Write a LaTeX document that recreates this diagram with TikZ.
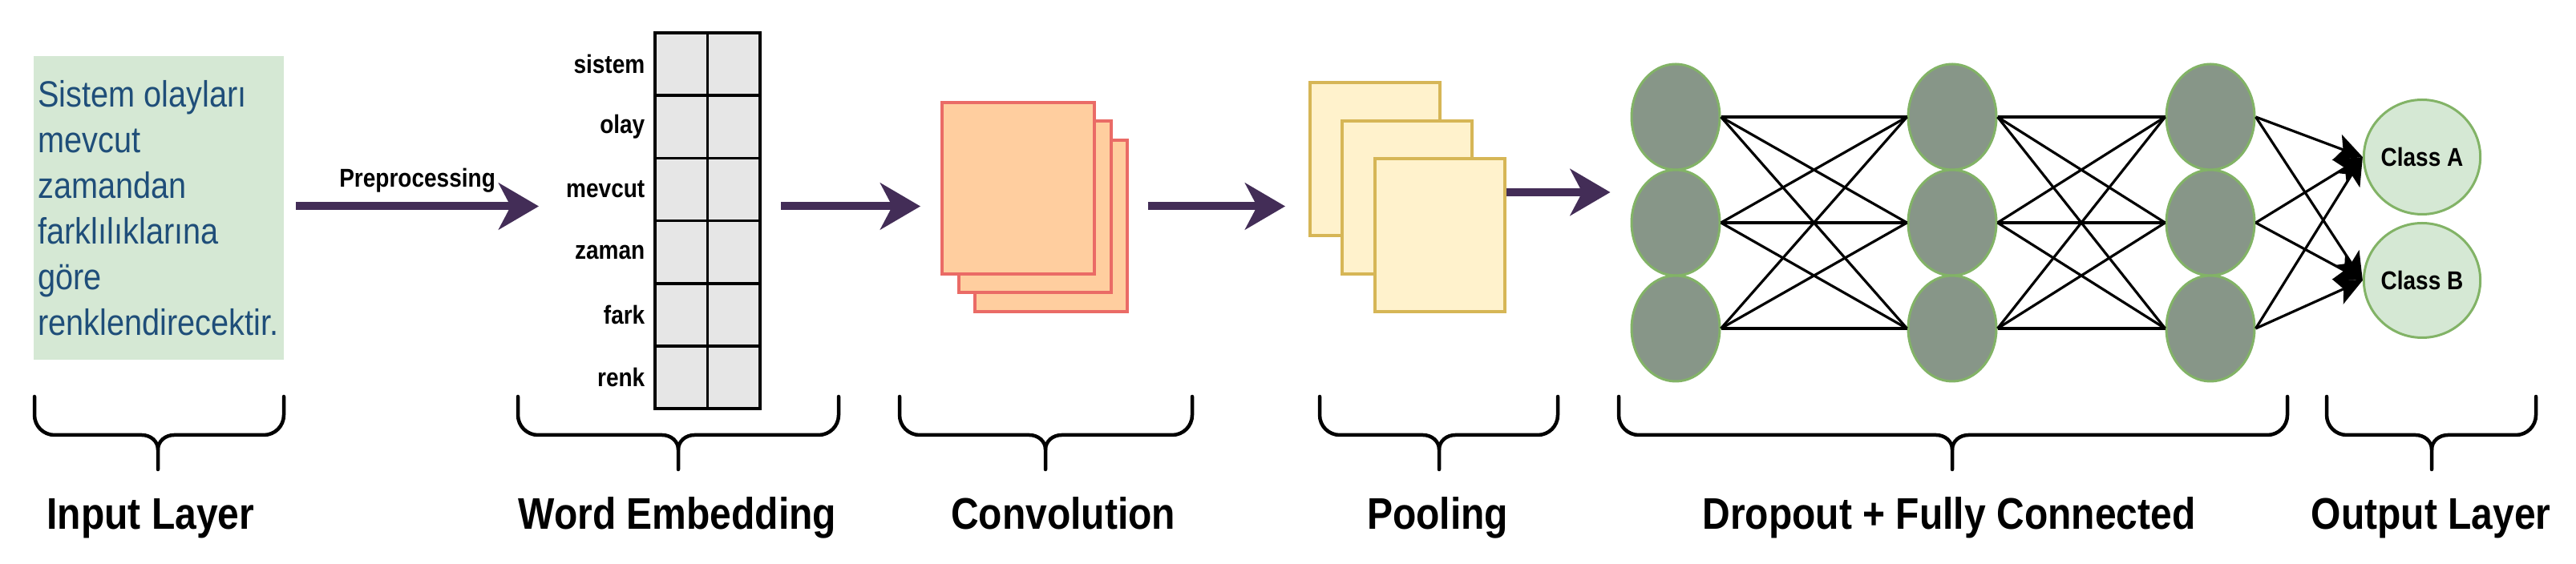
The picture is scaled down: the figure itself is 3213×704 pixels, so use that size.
\documentclass[tikz,border=0pt]{standalone}
\usepackage{fontspec}
\setmainfont{Liberation Sans}
\usepackage{graphicx}
\usetikzlibrary{positioning,shapes.geometric,arrows.meta}

\definecolor{inputfill}{HTML}{D5E8D4}
\definecolor{inputtext}{HTML}{1F4E79}
\definecolor{cellfill}{HTML}{E6E6E6}
\definecolor{convfill}{HTML}{FFCE9F}
\definecolor{convline}{HTML}{EA6B66}
\definecolor{poolfill}{HTML}{FFF2CC}
\definecolor{poolline}{HTML}{D6B656}
\definecolor{neuronfill}{HTML}{879688}
\definecolor{neuronline}{HTML}{82B366}
\definecolor{flowcol}{HTML}{432D57}

\newcommand{\vstretch}[1]{\scalebox{1}[1.15]{#1}}
% curly brace under a layer: left end, tip, right end
\newcommand{\layerbrace}[3]{%
    \draw[bracestyle] (#1,209) -- (#1,186) to[out=-90,in=180] ({#1+25},161)
        -- ({#2-20},161) to[out=0,in=90] (#2,143) -- (#2,118);
    \draw[bracestyle] (#3,209) -- (#3,186) to[out=-90,in=0] ({#3-25},161)
        -- ({#2+20},161) to[out=180,in=90] (#2,143);}

\tikzset{
    inputbox/.style={rectangle, fill=inputfill, minimum width=31.1mm, minimum height=37.9mm,
        inner xsep=0.6mm, text=inputtext},
    cell/.style={rectangle, draw=black, line width=0.35mm, fill=cellfill,
        minimum width=6.55mm, minimum height=7.82mm, inner sep=0pt, outer sep=0pt},
    smalllabel/.style={font=\bfseries\fontsize{7.97}{9}\selectfont, inner sep=0pt},
    layerlabel/.style={font=\bfseries\fontsize{13.66}{16}\selectfont, inner sep=0pt, anchor=base},
    convmap/.style={rectangle, draw=convline, fill=convfill, line width=0.4mm,
        minimum width=19mm, minimum height=21.4mm},
    poolmap/.style={rectangle, draw=poolline, fill=poolfill, line width=0.4mm,
        minimum width=16.2mm, minimum height=19.1mm},
    neuron/.style={ellipse, draw=neuronline, fill=neuronfill, line width=0.3mm,
        minimum width=11mm, minimum height=13.2mm, inner sep=0pt},
    classnode/.style={ellipse, draw=neuronline, fill=inputfill, line width=0.3mm,
        minimum width=12mm, minimum height=14.3mm, inner sep=0pt,
        font=\bfseries\fontsize{7.97}{9}\selectfont},
    flow/.style={draw=flowcol, line width=1mm, -{Stealth[length=5mm,width=5.8mm,inset=1.5mm]}},
    link/.style={draw=black, line width=0.32mm},
    outlink/.style={link, -{Stealth[length=3.4mm,width=3.4mm,inset=0.8mm]}},
    bracestyle/.style={draw=black, line width=0.45mm, line cap=round},
}

\begin{document}
\begin{tikzpicture}[x=0.1mm, y=0.1mm]
    \useasboundingbox (0,0) rectangle (3213,704);

    % input text
    \node[inputbox] (inp) at (197.5,444.5) {\vstretch{\parbox{30mm}{\raggedright
        \fontsize{11.3}{14.1}\selectfont
        Sistem olayları\\mevcut\\zamandan\\farklılıklarına\\göre\\renklendirecektir.}}};

    % word embedding table
    \foreach \w [count=\i] in {sistem,olay,mevcut,zaman,fark,renk} {
        \node[cell] (c\i-1) at (849.75,{663-78.2*(\i-0.5)}) {};
        \node[cell, right=0mm of c\i-1] (c\i-2) {};
        \node[smalllabel, left=1.2mm of c\i-1] (w\i) {\vstretch{\w}};
    }

    % feature maps
    \node[convmap] (conv3) at (1310.5,421.5) {};
    \node[convmap] (conv2) at (1290.5,445.5) {};
    \node[convmap] (conv1) at (1270,469) {};

    \node[poolmap] (pool1) at (1715,505.5) {};
    \node[poolmap] (pool2) at (1755,457) {};
    \node[poolmap] (pool3) at (1795.5,410) {};

    % dense layers
    \foreach \c/\x in {1/2090,2/2435,3/2757}
        \foreach \r/\y in {1/558,2/426,3/294}
            \node[neuron] (n\c-\r) at (\x,\y) {};

    \node[classnode] (clsA) at (3021,508) {\vstretch{Class A}};
    \node[classnode] (clsB) at (3021,354) {\vstretch{Class B}};

    \foreach \r in {1,2,3} {
        \foreach \s in {1,2,3} {
            \draw[link] (n1-\r.east) -- (n2-\s.west);
            \draw[link] (n2-\r.east) -- (n3-\s.west);
        }
        \draw[outlink] (n3-\r.east) -- (clsA.west);
        \draw[outlink] (n3-\r.east) -- (clsB.west);
    }

    % flow arrows
    \coordinate (lvl) at ([yshift=0.2mm]inp.east);
    \draw[flow] ([xshift=1.5mm]lvl) -- ([xshift=-14.5mm]c1-1.west |- lvl)
        node[midway, above=1.2mm, smalllabel, text=black] (prep) {\vstretch{Preprocessing}};
    \draw[flow] ([xshift=2.6mm]c1-2.east |- lvl) -- ([xshift=-2.5mm]conv1.west |- lvl);
    \draw[flow] ([xshift=2.4mm]conv3.east |- lvl) -- ([xshift=-2.9mm]pool1.west |- lvl);
    \coordinate (a4) at ([yshift=5.4mm]pool3.east);
    \draw[flow] (a4) -- ([xshift=-2.5mm]n1-2.west |- a4);

    % braces and layer names
    \layerbrace{43}{197}{354}
    \layerbrace{646}{846}{1046}
    \layerbrace{1122}{1304}{1487}
    \layerbrace{1646}{1795}{1943}
    \layerbrace{2019}{2435}{2853}
    \layerbrace{2902}{3033}{3163}

    \node[layerlabel] (lblinput) at (188,43) {\vstretch{Input Layer}};
    \node[layerlabel] (lblemb) at (845,43) {\vstretch{Word Embedding}};
    \node[layerlabel] (lblconv) at (1326,43) {\vstretch{Convolution}};
    \node[layerlabel] (lblpool) at (1793,43) {\vstretch{Pooling}};
    \node[layerlabel] (lbldense) at (2431,43) {\vstretch{Dropout + Fully Connected}};
    \node[layerlabel] (lblout) at (3032,43) {\vstretch{Output Layer}};
\end{tikzpicture}
\end{document}
